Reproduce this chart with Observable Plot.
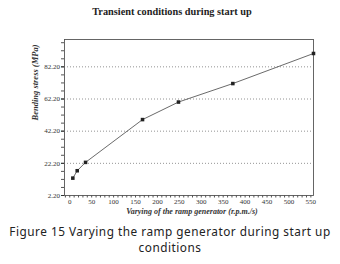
<!DOCTYPE html>
<html>
<head>
<meta charset="utf-8">
<script src="https://cdn.jsdelivr.net/npm/d3@7"></script>
<script src="https://cdn.jsdelivr.net/npm/@observablehq/plot@0.6"></script>
<style>
  html, body { margin: 0; padding: 0; background: #fff; }
  #wrap { position: relative; width: 340px; height: 264px; overflow: hidden; }
  #title { position: absolute; left: 0; width: 344px; top: 6px; text-align: center;
    font-family: "Liberation Serif", serif; font-weight: bold; font-size: 10.3px; color: #222; }
  #caption { position: absolute; left: 0; width: 340px; top: 223px; text-align: center;
    font-family: "Noto Sans", sans-serif; font-size: 11.8px; letter-spacing: 0.5px; line-height: 16px; color: #222; }
  #chart { position: absolute; left: 0; top: 0; }
</style>
</head>
<body>
<div id="wrap">
  <div id="chart"></div>
  <div id="title">Transient conditions during start up</div>
  <div id="caption">Figure 15 Varying the ramp generator during start up<br>conditions</div>
</div>
<script>
const rampX = [7, 17, 36, 166, 248, 372, 556];
const stress = [13.0, 17.6, 22.8, 49.4, 60.3, 71.8, 90.5];
const xTicks = [0, 50, 100, 150, 200, 250, 300, 350, 400, 450, 500, 550];
const yTicks = [2.2, 22.2, 42.2, 62.2, 82.2];
const gridY = [22.2, 42.2, 62.2, 82.2];
const xMinor = d3.range(-10, 556, 10);
const yMinor = d3.range(2.2, 99, 5);
const xLabel = "Varying of the ramp generator (r.p.m./s)";
const yLabel = "Bending stress (MPa)";

const data = rampX.map((x, i) => ({x, y: stress[i]}));

const chart = Plot.plot({
  width: 340,
  height: 264,
  marginLeft: 64,
  marginRight: 27,
  marginTop: 39,
  marginBottom: 69,
  style: {background: "#fff", color: "#333", fontFamily: "Liberation Serif, serif", fontSize: "7px"},
  x: {domain: [-12, 556]},
  y: {domain: [2.2, 99.2]},
  marks: [
    Plot.ruleY(gridY, {stroke: "#777", strokeWidth: 0.8, strokeDasharray: "1,2"}),
    Plot.axisX({ticks: xMinor, tickSize: 2.5, text: null, label: null, stroke: "#555"}),
    Plot.axisX({ticks: xTicks, tickSize: 0, tickPadding: 4, tickFormat: d => String(d), label: null, fill: "#333"}),
    Plot.axisY({ticks: yMinor, tickSize: 3, text: null, label: null, stroke: "#555"}),
    Plot.axisY({ticks: yTicks, tickSize: 3, tickPadding: 1.5, tickFormat: d => d.toFixed(2), label: null, fill: "#333"}),
    Plot.frame({stroke: "#555", strokeWidth: 0.9}),
    Plot.line(data, {x: "x", y: "y", stroke: "#444", strokeWidth: 0.8}),
    Plot.dot(data, {x: "x", y: "y", symbol: "square", r: 2, fill: "#222", stroke: "none"}),
    Plot.text([xLabel], {frameAnchor: "bottom", dy: 18, text: d => d, fontStyle: "italic", fontWeight: "bold", fontSize: 8, fill: "#333", dx: 3}),
    Plot.text([yLabel], {frameAnchor: "left", dx: -29, dy: 3, rotate: -90, text: d => d, fontStyle: "italic", fontWeight: "bold", fontSize: 8.5, fill: "#333"})
  ]
});
document.getElementById("chart").appendChild(chart);
</script>
</body>
</html>
